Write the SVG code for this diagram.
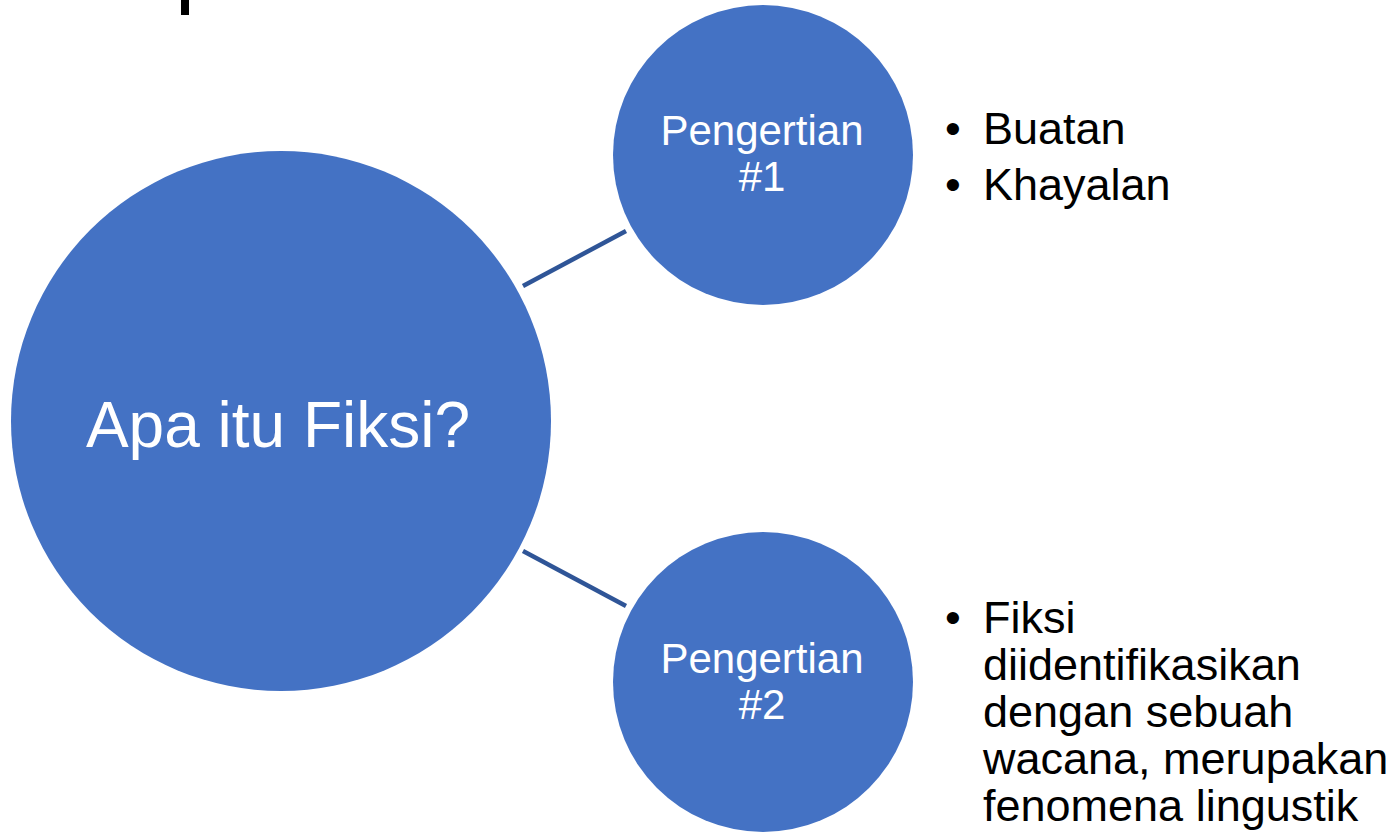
<svg xmlns="http://www.w3.org/2000/svg" width="1396" height="832" viewBox="0 0 1396 832">
<style>
.node{fill:#4472C4;}
.lbl{fill:#FFFFFF;font-family:"Liberation Sans",Arial,sans-serif;text-anchor:middle;}
.bul{fill:#000000;font-family:"Liberation Sans",Arial,sans-serif;font-size:45px;}
.conn{stroke:#2F5597;stroke-width:4.5;fill:none;}
</style>
<rect width="1396" height="832" fill="#FFFFFF"/>
<rect x="181" y="0" width="8" height="15" fill="#000000"/>
<g id="connectors">
<line class="conn" x1="523" y1="286" x2="626" y2="231"/>
<line class="conn" x1="523" y1="551" x2="626" y2="606"/>
</g>
<g id="node-main">
<circle class="node" cx="281" cy="421" r="270"/>
<text class="lbl" x="278" y="447" font-size="64">Apa itu Fiksi?</text>
</g>
<g id="node-p1">
<circle class="node" cx="763" cy="155" r="150"/>
<text class="lbl" x="762" y="145" font-size="42">Pengertian</text>
<text class="lbl" x="762" y="191" font-size="42">#1</text>
</g>
<g id="node-p2">
<circle class="node" cx="763" cy="682" r="150"/>
<text class="lbl" x="762" y="673" font-size="42">Pengertian</text>
<text class="lbl" x="762" y="719" font-size="42">#2</text>
</g>
<g id="list-p1">
<text class="bul" x="945" y="144">•</text>
<text class="bul" x="983" y="144">Buatan</text>
<text class="bul" x="945" y="200">•</text>
<text class="bul" x="983" y="200">Khayalan</text>
</g>
<g id="list-p2">
<text class="bul" x="945" y="633">•</text>
<text class="bul" x="983" y="633">Fiksi</text>
<text class="bul" x="983" y="680">diidentifikasikan</text>
<text class="bul" x="983" y="727">dengan sebuah</text>
<text class="bul" x="983" y="774">wacana, merupakan</text>
<text class="bul" x="983" y="821">fenomena lingustik</text>
</g>
</svg>
